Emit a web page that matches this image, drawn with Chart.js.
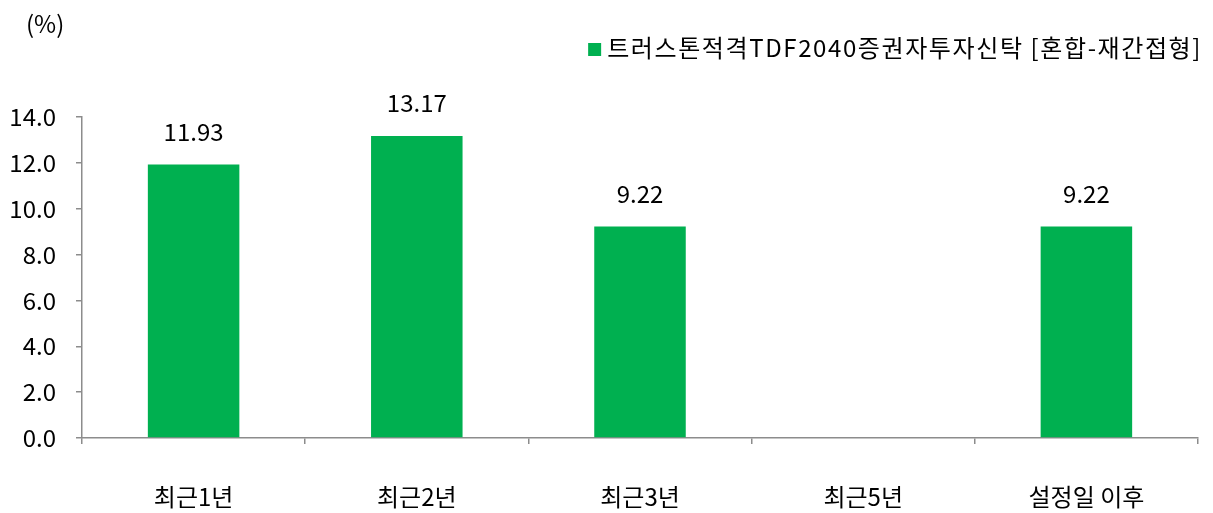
<!DOCTYPE html>
<html>
<head>
<meta charset="utf-8">
<script src="https://cdn.jsdelivr.net/npm/chart.js@4/dist/chart.umd.min.js"></script>
<style>
  html, body { margin: 0; padding: 0; background: #fff; }
  #chart { display: block; }
</style>
</head>
<body>
<canvas id="chart" width="1213" height="513"></canvas>
<script>
const categories = ['최근1년', '최근2년', '최근3년', '최근5년', '설정일 이후'];
const returns = [11.93, 13.17, 9.22, null, 9.22];
const seriesName = '트러스톤적격TDF2040증권자투자신탁 [혼합-재간접형]';
const unitLabel = '(%)';

const fontFamily = '"Noto Sans CJK KR", "Noto Sans", sans-serif';
const barColor = '#00b050';
const axisColor = '#8c8c8c';

// value labels above bars, unit text and legend
const overlayPlugin = {
    id: 'overlay',
    afterDatasetsDraw(chart) {
        const ctx = chart.ctx;
        const meta = chart.getDatasetMeta(0);
        ctx.save();
        ctx.fillStyle = '#000';
        ctx.font = '24px ' + fontFamily;
        ctx.textAlign = 'center';
        ctx.textBaseline = 'middle';
        meta.data.forEach((bar, i) => {
            if (returns[i] === null) return;
            ctx.fillText(returns[i].toFixed(2), bar.x, bar.y - 33);
        });

        ctx.textAlign = 'left';
        ctx.fillText(unitLabel, 26, 24);

        // legend, right edge at 1200
        ctx.font = '24px ' + fontFamily;
        ctx.letterSpacing = '1.6px';
        const w = ctx.measureText(seriesName).width;
        const textX = 1202 - w;
        ctx.fillStyle = barColor;
        ctx.fillRect(textX - 19, 43, 13, 13);
        ctx.fillStyle = '#000';
        ctx.fillText(seriesName, textX, 48);
        ctx.restore();
    }
};

new Chart(document.getElementById('chart'), {
    type: 'bar',
    data: {
        labels: categories,
        datasets: [{
            label: seriesName,
            data: returns,
            backgroundColor: barColor,
            borderWidth: 0,
            categoryPercentage: 1.0,
            barPercentage: 0.41
        }]
    },
    options: {
        responsive: false,
        devicePixelRatio: 1,
        animation: false,
        layout: { padding: { top: 117, right: 15, left: 0, bottom: 0 } },
        plugins: {
            legend: { display: false },
            tooltip: { enabled: false }
        },
        scales: {
            x: {
                offset: true,
                grid: {
                    offset: true,
                    drawOnChartArea: false,
                    drawTicks: true,
                    tickLength: 6,
                    color: axisColor,
                    lineWidth: 1.5
                },
                border: { color: axisColor, width: 1.5 },
                ticks: {
                    color: '#000',
                    font: { family: fontFamily, size: 24 },
                    padding: 38,
                    maxRotation: 0
                },
                afterFit(scale) { scale.height = 75; }
            },
            y: {
                min: 0,
                max: 14,
                grid: {
                    drawOnChartArea: false,
                    drawTicks: true,
                    tickLength: 6,
                    color: axisColor,
                    lineWidth: 1.5
                },
                border: { color: axisColor, width: 1.5 },
                ticks: {
                    stepSize: 2,
                    color: '#000',
                    font: { family: fontFamily, size: 24 },
                    padding: 20,
                    callback: v => v.toFixed(1)
                },
                afterFit(scale) { scale.width = 82; }
            }
        }
    },
    plugins: [overlayPlugin]
});
</script>
</body>
</html>
